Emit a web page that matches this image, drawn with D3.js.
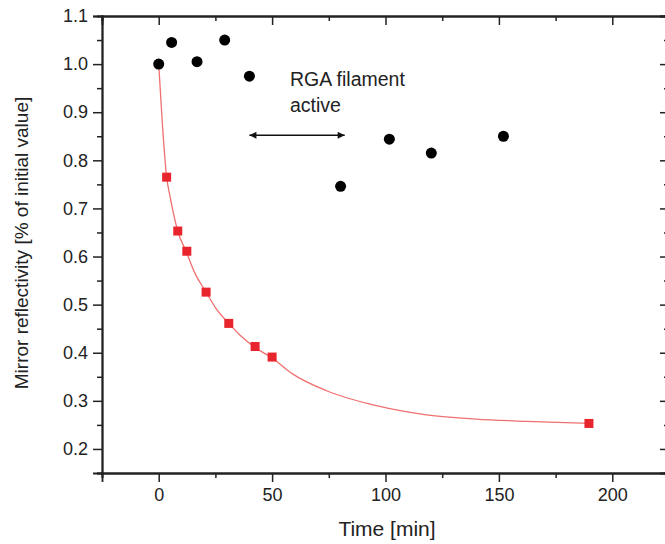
<!DOCTYPE html>
<html>
<head>
<meta charset="utf-8">
<script src="https://cdn.jsdelivr.net/npm/d3@7"></script>
<style>
  body { margin: 0; background: #fff; }
  svg { display: block; font-family: "Liberation Sans", Arial, sans-serif; }
  .axis path, .axis line { stroke: #222; }
  .axis text { fill: #222; font-size: 18px; }
</style>
</head>
<body>
<script>
const w = 665; // width
const h = 544; // height

// black circles: reflectivity of the monitored mirror
const circleTime = [0, 5.7, 16.9, 29.1, 40, 80.2, 101.7, 120.2, 152];
const circleVal = [1.0, 1.045, 1.005, 1.05, 0.975, 0.746, 0.844, 0.815, 0.85];

// red squares: measured decay
const squareTime = [3.5, 8.4, 12.4, 20.9, 30.9, 42.5, 50, 189.7];
const squareVal = [0.765, 0.653, 0.611, 0.526, 0.461, 0.413, 0.391, 0.253];

// fitted curve
const fitTime = [0, 1.7, 3.5, 5, 8.4, 12.4, 16, 20.9, 25, 30.9, 36, 42.5, 50, 59, 74, 96, 118, 140, 162, 190];
const fitVal = [1.0, 0.87, 0.765, 0.725, 0.653, 0.607, 0.565, 0.526, 0.494, 0.461, 0.436, 0.411, 0.389, 0.356, 0.321, 0.290, 0.271, 0.262, 0.2575, 0.253];

// arrow "RGA filament active"
const arrowTime = [40, 82];
const arrowVal = 0.852;

const xTicks = [0, 50, 100, 150, 200];
const xMinor = [-25, 25, 75, 125, 175, 225];
const yTicks = [0.2, 0.3, 0.4, 0.5, 0.6, 0.7, 0.8, 0.9, 1.0, 1.1];
const yMinor = [0.15, 0.25, 0.35, 0.45, 0.55, 0.65, 0.75, 0.85, 0.95, 1.05];

let svg = d3.select("body")
    .append("svg")
    .attr('width', w)
    .attr('height', h);

// scales
let x = d3.scaleLinear().domain([-25, 225]).range([102, 669]);
let y = d3.scaleLinear().domain([0.15, 1.1]).range([473, 16]);

// arrow heads
let defs = svg.append("defs");
defs.append("marker")
    .attr("id", "head")
    .attr("viewBox", "0 0 10 10")
    .attr("refX", 10).attr("refY", 5)
    .attr("markerWidth", 12).attr("markerHeight", 7)
    .attr("markerUnits", "userSpaceOnUse")
    .attr("orient", "auto-start-reverse")
    .append("path")
    .attr("d", "M0,0 L10,5 L0,10 Z")
    .attr("fill", "#111");

// bottom axis
svg.append("g")
    .attr('class', 'axis')
    .attr('transform', `translate(0,${y(0.15)})`)
    .call(d3.axisBottom(x).tickValues(xTicks).tickSize(9).tickPadding(6).tickFormat(d3.format("d")));
svg.append("g")
    .attr('class', 'axis')
    .attr('transform', `translate(0,${y(0.15)})`)
    .call(d3.axisBottom(x).tickValues(xMinor).tickSize(5).tickFormat(""));

// top axis (ticks inward)
svg.append("g")
    .attr('class', 'axis')
    .attr('transform', `translate(0,${y(1.1)})`)
    .call(d3.axisBottom(x).tickValues(xTicks).tickSize(9).tickFormat(""));
svg.append("g")
    .attr('class', 'axis')
    .attr('transform', `translate(0,${y(1.1)})`)
    .call(d3.axisBottom(x).tickValues(xMinor).tickSize(5).tickFormat(""));

// left axis
svg.append("g")
    .attr('class', 'axis')
    .attr('transform', `translate(${x(-25)},0)`)
    .call(d3.axisLeft(y).tickValues(yTicks).tickSize(9).tickPadding(5).tickFormat(d3.format(".1f")));
svg.append("g")
    .attr('class', 'axis')
    .attr('transform', `translate(${x(-25)},0)`)
    .call(d3.axisLeft(y).tickValues(yMinor).tickSize(5).tickFormat(""));

// right axis (ticks inward)
svg.append("g")
    .attr('class', 'axis')
    .attr('transform', `translate(${x(225)},0)`)
    .call(d3.axisLeft(y).tickValues(yTicks).tickSize(9).tickFormat(""));
svg.append("g")
    .attr('class', 'axis')
    .attr('transform', `translate(${x(225)},0)`)
    .call(d3.axisLeft(y).tickValues(yMinor).tickSize(5).tickFormat(""));

svg.selectAll(".axis .domain").attr("stroke-width", 1.8);
svg.selectAll(".axis .tick line").attr("stroke-width", 1.5);

// fit curve
let fitData = fitTime.map((t, i) => ({t: t, v: fitVal[i]}));
svg.append("path")
    .datum(fitData)
    .attr("fill", "none")
    .attr("stroke", "#f07070")
    .attr("stroke-width", 1.3)
    .attr("d", d3.line()
        .x((d) => x(d.t))
        .y((d) => y(d.v))
        .curve(d3.curveMonotoneX));

// red squares
let sq = 9;
svg.selectAll('rect.sq')
    .data(squareTime.map((t, i) => ({t: t, v: squareVal[i]})))
    .enter()
    .append('rect')
    .attr('class', 'sq')
    .attr('x', (d) => x(d.t) - sq / 2)
    .attr('y', (d) => y(d.v) - sq / 2)
    .attr('width', sq)
    .attr('height', sq)
    .attr('fill', '#e8242c');

// black circles
svg.selectAll('circle')
    .data(circleTime.map((t, i) => ({t: t, v: circleVal[i]})))
    .enter()
    .append('circle')
    .attr('cx', (d) => x(d.t))
    .attr('cy', (d) => y(d.v))
    .attr("r", 5.5)
    .attr('fill', '#000');

// arrow
svg.append("line")
    .attr("x1", x(arrowTime[0]))
    .attr("x2", x(arrowTime[1]))
    .attr("y1", y(arrowVal))
    .attr("y2", y(arrowVal))
    .attr("stroke", "#111")
    .attr("stroke-width", 1.5)
    .attr("marker-start", "url(#head)")
    .attr("marker-end", "url(#head)");

// annotation
let note = svg.append("text")
    .attr("x", 290)
    .attr("y", 86)
    .attr("font-size", 19.5)
    .attr("fill", "#222");
note.append("tspan").attr("x", 290).text("RGA filament");
note.append("tspan").attr("x", 290).attr("dy", 26).text("active");

// x axis label
svg.append("text")
    .attr("text-anchor", "middle")
    .attr("x", 387)
    .attr("y", 536)
    .attr("font-size", 21)
    .attr("fill", "#222")
    .text("Time [min]");

// y axis label
svg.append("text")
    .attr("text-anchor", "middle")
    .attr("transform", "rotate(-90)")
    .attr("x", -243)
    .attr("y", 28)
    .attr("font-size", 19)
    .attr("fill", "#222")
    .text("Mirror reflectivity [% of initial value]");
</script>
</body>
</html>
